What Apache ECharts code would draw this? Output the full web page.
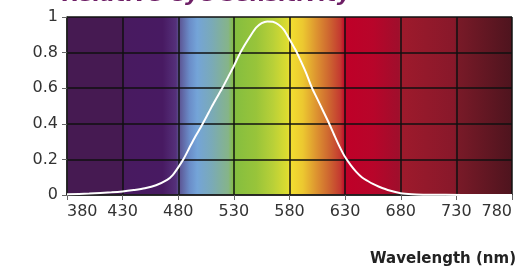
<!DOCTYPE html>
<html>
<head>
<meta charset="utf-8">
<script src="https://cdn.jsdelivr.net/npm/echarts@6/dist/echarts.min.js"></script>
<style>
  html, body { margin: 0; padding: 0; background: #fff; }
  #main { width: 519px; height: 268px; }
</style>
</head>
<body>
<div id="main"></div>
<script>
// wavelength (nm) and relative eye sensitivity
var wavelengths = [380, 400, 420, 430, 440, 450, 460, 470, 475, 480, 485, 490, 495, 500,
  505, 510, 515, 520, 525, 530, 535, 540, 545, 550, 555, 560, 565, 570, 575, 580, 585,
  590, 595, 600, 605, 610, 615, 620, 625, 630, 635, 640, 645, 650, 655, 660, 670, 680,
  690, 700, 720, 750, 780];
var sensitivity = [0.004, 0.008, 0.015, 0.02, 0.028, 0.038, 0.055, 0.085, 0.112, 0.155, 0.205,
  0.265, 0.325, 0.378, 0.435, 0.495, 0.55, 0.605, 0.665, 0.725, 0.79, 0.845, 0.895, 0.94, 0.965,
  0.975, 0.973, 0.958, 0.928, 0.875, 0.82, 0.755, 0.685, 0.605, 0.54, 0.475, 0.41, 0.34, 0.272,
  0.213, 0.168, 0.13, 0.1, 0.08, 0.062, 0.048, 0.025, 0.01, 0.004, 0.002, 0.001, 0.0, 0.0];
var xTicks = [380, 430, 480, 530, 580, 630, 680, 730, 780];

// spectrum colours behind the plot
var spectrum = [
  [380, '#461a52'], [430, '#461a52'], [430, '#481a60'], [466, '#481a62'],
  [478, '#55307a'], [480, '#5a4e8e'], [490, '#6a8cc8'], [497, '#74a4d8'],
  [510, '#7aaab8'], [525, '#86b488'], [530, '#84be40'], [550, '#98c43a'],
  [565, '#b8d038'], [578, '#dcdc30'], [580, '#f2e030'], [592, '#ecc830'],
  [605, '#dc9030'], [617, '#cc6030'], [626, '#c43830'], [630, '#bf0028'],
  [655, '#b8052a'], [678, '#a00e2c'], [680, '#9e1a2c'], [728, '#88182a'],
  [730, '#7a1a28'], [780, '#4e141e']
];

var chartDom = document.getElementById('main');
var myChart = echarts.init(chartDom);
var font = 'DejaVu Sans';

var stops = spectrum.map(function (s) {
  return { offset: (s[0] - 380) / 400, color: s[1] };
});

var option = {
  backgroundColor: '#fff',
  animation: false,
  title: [
    {
      text: 'Relative eye sensitivity',
      left: 62,
      top: -16,
      padding: 0,
      textStyle: { color: '#6e1f66', fontSize: 22, fontWeight: 'bold', fontStyle: 'italic', fontFamily: font }
    },
    {
      text: 'Wavelength (nm)',
      right: 3,
      bottom: 1,
      padding: 0,
      textStyle: { color: '#222', fontSize: 15, fontWeight: 'bold', fontFamily: font }
    }
  ],
  grid: {
    left: 67,
    right: 7,
    top: 17,
    bottom: 73,
    containLabel: false,
    outerBoundsMode: 'none',
    show: true,
    borderWidth: 0,
    backgroundColor: new echarts.graphic.LinearGradient(0, 0, 1, 0, stops)
  },
  xAxis: {
    type: 'value',
    min: xTicks[0],
    max: xTicks[xTicks.length - 1],
    interval: 50,
    axisLine: { show: true, lineStyle: { color: '#222', width: 1.5 } },
    axisTick: { show: true, length: 5, lineStyle: { color: '#666' } },
    axisLabel: {
      color: '#333', fontSize: 16, fontFamily: font, margin: 9,
      alignMinLabel: 'left', alignMaxLabel: 'right'
    },
    splitLine: { show: true, lineStyle: { color: '#111', width: 1.5 } }
  },
  yAxis: {
    type: 'value',
    min: 0,
    max: 1,
    interval: 0.2,
    axisLine: { show: true, lineStyle: { color: '#222', width: 1.5 } },
    axisTick: { show: true, length: 5, lineStyle: { color: '#666' } },
    axisLabel: {
      color: '#333', fontSize: 16, fontFamily: font, margin: 9,
      formatter: function (v) { return v === 0 || v === 1 ? String(v) : v.toFixed(1); }
    },
    splitLine: { show: true, lineStyle: { color: '#111', width: 1.5 } }
  },
  series: [
    {
      type: 'line',
      data: wavelengths.map(function (w, i) { return [w, sensitivity[i]]; }),
      smooth: 0.25,
      showSymbol: false,
      lineStyle: { color: '#fff', width: 2 }
    }
  ]
};

option && myChart.setOption(option);
</script>
</body>
</html>
